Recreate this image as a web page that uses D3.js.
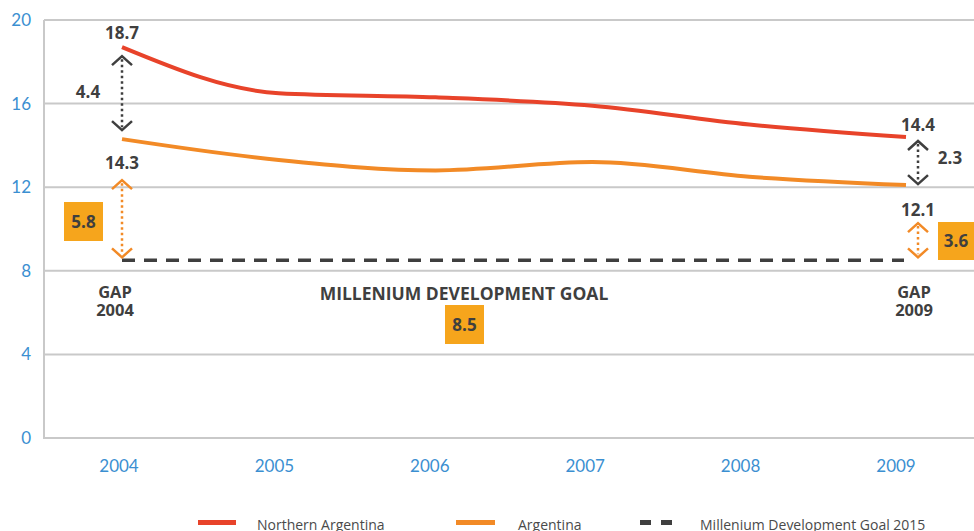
<!DOCTYPE html>
<html>
<head>
<meta charset="utf-8">
<script src="https://cdn.jsdelivr.net/npm/d3@7"></script>
<style>
  body { margin: 0; background: #fff; }
  svg { display: block; }
  .tick-lbl { font-family: Lato, "Open Sans", sans-serif; font-size: 17px; fill: #3b8fd1; }
  .ann { font-family: "Open Sans", Lato, sans-serif; font-weight: 700; fill: #3f3f3f; }
  .leg { font-family: "Open Sans", Lato, sans-serif; font-size: 14px; fill: #4a4a4a; }
</style>
</head>
<body>
<div id="chart"></div>
<script>
var width = 974, height = 531;

// data
var years = [2004, 2005, 2006, 2007, 2008, 2009];
var northern = [18.7, 16.5, 16.3, 15.9, 15.0, 14.4];
var argentina = [14.3, 13.3, 12.8, 13.2, 12.5, 12.1];
var goal = 8.5;
var yTicks = [0, 4, 8, 12, 16, 20];
var legendLabels = ["Northern Argentina", "Argentina", "Millenium Development Goal 2015"];

var red = "#e8432a", orange = "#f28a26", boxCol = "#f6a51c", dark = "#3f3f3f";

var svg = d3.select("#chart").append("svg")
    .attr("width", width).attr("height", height);

var x = d3.scaleLinear().domain([2004, 2009]).range([122, 906]);
var y = d3.scaleLinear().domain([0, 20]).range([438, 20]);

// gridlines
svg.append("g").selectAll("line").data(yTicks).enter().append("line")
    .attr("x1", 44).attr("x2", width)
    .attr("y1", function(d) { return y(d); })
    .attr("y2", function(d) { return y(d); })
    .attr("stroke", "#c9c9c9").attr("stroke-width", 2);

svg.append("line")
    .attr("x1", 44).attr("x2", 44).attr("y1", y(20)).attr("y2", y(0) + 1)
    .attr("stroke", "#c9c9c9").attr("stroke-width", 2);

// y tick labels
svg.append("g").selectAll("text").data(yTicks).enter().append("text")
    .attr("class", "tick-lbl")
    .attr("x", 31).attr("y", function(d) { return y(d) + 6; })
    .attr("text-anchor", "end")
    .text(function(d) { return d; });

// x tick labels
svg.append("g").selectAll("text").data(years).enter().append("text")
    .attr("class", "tick-lbl")
    .attr("x", function(d) { return x(d) - 3 - (d - 2004) * 1.4; }).attr("y", 472)
    .attr("text-anchor", "middle")
    .text(function(d) { return d; });

// lines
var line = d3.line()
    .x(function(d, i) { return x(years[i]); })
    .y(function(d) { return y(d); })
    .curve(d3.curveMonotoneX);

svg.append("path").datum(argentina).attr("d", line)
    .attr("fill", "none").attr("stroke", orange).attr("stroke-width", 4);
svg.append("path").datum(northern).attr("d", line)
    .attr("fill", "none").attr("stroke", red).attr("stroke-width", 4);

svg.append("line")
    .attr("x1", x(2004)).attr("x2", x(2009) - 2)
    .attr("y1", y(goal)).attr("y2", y(goal))
    .attr("stroke", dark).attr("stroke-width", 3.5)
    .attr("stroke-dasharray", "13,9");

// double arrows
function arrow(cx, y1, y2, col) {
    var g = svg.append("g");
    g.append("line").attr("x1", cx).attr("x2", cx).attr("y1", y1 + 3).attr("y2", y2 - 3)
        .attr("stroke", col).attr("stroke-width", 2.5).attr("stroke-dasharray", "2.5,3");
    g.append("path").attr("d", "M" + (cx - 10) + "," + (y1 + 9) + "L" + cx + "," + y1 + "L" + (cx + 10) + "," + (y1 + 9))
        .attr("fill", "none").attr("stroke", col).attr("stroke-width", 2.5);
    g.append("path").attr("d", "M" + (cx - 10) + "," + (y2 - 9) + "L" + cx + "," + y2 + "L" + (cx + 10) + "," + (y2 - 9))
        .attr("fill", "none").attr("stroke", col).attr("stroke-width", 2.5);
}

function label(px, py, txt, size, anchor) {
    svg.append("text").attr("class", "ann")
        .attr("x", px).attr("y", py)
        .attr("font-size", size)
        .attr("text-anchor", anchor || "middle")
        .text(txt);
}

function box(x0, y0, w, h, txt) {
    svg.append("rect").attr("x", x0).attr("y", y0).attr("width", w).attr("height", h).attr("fill", boxCol);
    label(x0 + w / 2, y0 + h / 2 + 6, txt, 17);
}

var xa = 122, xb = 918;
// 2004
label(xa, 39, northern[0], 17);
arrow(xa, y(northern[0]) + 9, y(argentina[0]) - 9, dark);
label(88, 98, (northern[0] - argentina[0]).toFixed(1), 17);
label(xa, 169, argentina[0], 17);
arrow(xa, y(argentina[0]) + 41, y(goal) - 3, orange);
box(64, 202, 39, 39, (argentina[0] - goal).toFixed(1));
label(115, 298, "GAP", 16.5);
label(115, 316, "2004", 16.5);

// 2009
label(xb, 131, northern[5], 17);
arrow(xb, y(northern[5]) + 4, y(argentina[5]) - 1, dark);
label(950, 164, (northern[5] - argentina[5]).toFixed(1), 17);
label(xb, 216, argentina[5], 17);
arrow(xb, y(argentina[5]) + 38, y(goal) - 3, orange);
box(938, 222, 36, 38, (argentina[5] - goal).toFixed(1));
label(914, 298, "GAP", 16.5);
label(914, 316, "2009", 16.5);

// goal label
label(464, 300, "MILLENIUM DEVELOPMENT GOAL", 17.5);
box(445, 305, 39, 39, goal);

// legend
var legX = [198, 456, 640];
var legTx = [257, 518, 700];
svg.append("rect").attr("x", legX[0]).attr("y", 520).attr("width", 38).attr("height", 5).attr("fill", red);
svg.append("rect").attr("x", legX[1]).attr("y", 520).attr("width", 39).attr("height", 5).attr("fill", orange);
svg.append("line").attr("x1", legX[2]).attr("x2", legX[2] + 33).attr("y1", 522.5).attr("y2", 522.5)
    .attr("stroke", dark).attr("stroke-width", 5).attr("stroke-dasharray", "11,10");
svg.append("g").selectAll("text").data(legendLabels).enter().append("text")
    .attr("class", "leg")
    .attr("x", function(d, i) { return legTx[i]; }).attr("y", 530)
    .text(function(d) { return d; });
</script>
</body>
</html>
